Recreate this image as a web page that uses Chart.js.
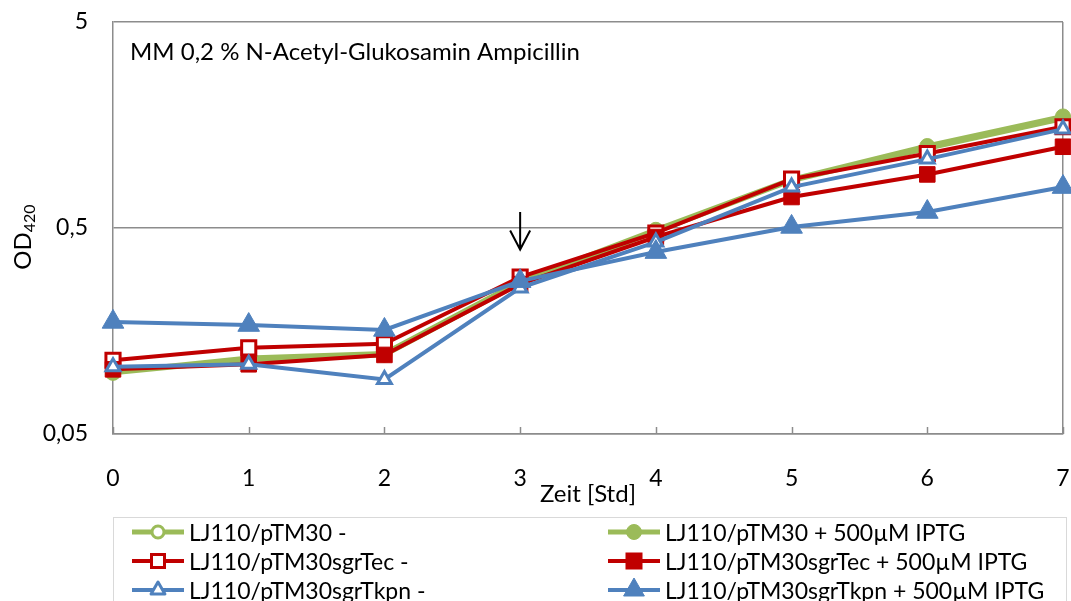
<!DOCTYPE html>
<html lang="de">
<head>
    <meta charset="UTF-8">
    <title>OD420 - MM 0,2 % N-Acetyl-Glukosamin Ampicillin</title>
    <script src="https://cdn.jsdelivr.net/npm/chart.js@4.4.1/dist/chart.umd.min.js"></script>
    <style>
        body {
            margin: 0;
            background: #ffffff;
            font-family: Lato, 'Open Sans', sans-serif;
        }
        .wrap {
            position: relative;
            width: 1071px;
            height: 601px;
            overflow: hidden;
        }
        .wrap canvas {
            position: absolute;
            left: 0;
            top: 0;
        }
        .legend {
            position: absolute;
            left: 113px;
            top: 517px;
            width: 954px;
            height: 110px;
            border: 1px solid #d9d9d9;
            box-sizing: border-box;
        }
        .legend-item {
            position: absolute;
            height: 28px;
            display: flex;
            align-items: center;
            font-size: 23px;
            color: #000;
            white-space: nowrap;
        }
        .legend-item svg {
            margin-right: 5px;
        }
    </style>
</head>
<body>
    <div class="wrap">
        <canvas id="chart" width="1071" height="601"></canvas>
        <div id="legend" class="legend"></div>
    </div>

    <script>
        // Data
        const hours = [0, 1, 2, 3, 4, 5, 6, 7];
        const pTM30 = [0.099, 0.115, 0.121, 0.270, 0.480, 0.850, 1.22, 1.70];
        const pTM30Iptg = [0.100, 0.117, 0.123, 0.275, 0.490, 0.860, 1.25, 1.74];
        const sgrTec = [0.114, 0.131, 0.137, 0.289, 0.473, 0.864, 1.15, 1.55];
        const sgrTecIptg = [0.103, 0.109, 0.121, 0.267, 0.452, 0.707, 0.91, 1.24];
        const sgrTkpn = [0.106, 0.109, 0.092, 0.256, 0.427, 0.790, 1.08, 1.51];
        const sgrTkpnIptg = [0.175, 0.169, 0.160, 0.276, 0.382, 0.506, 0.598, 0.790];

        const seriesNames = [
            'LJ110/pTM30 -',
            'LJ110/pTM30 + 500µM IPTG',
            'LJ110/pTM30sgrTec -',
            'LJ110/pTM30sgrTec + 500µM IPTG',
            'LJ110/pTM30sgrTkpn -',
            'LJ110/pTM30sgrTkpn + 500µM IPTG'
        ];
        const yTicks = [0.05, 0.5, 5];
        const arrowHour = 3;
        const arrowFrom = 0.598;
        const arrowTo = 0.393;

        const FONT = 'Lato, "Open Sans", sans-serif';
        const GREEN = '#9bbb59';
        const RED = '#c00000';
        const BLUE = '#4f81bd';
        const GRID = '#8c8c8c';

        // radius is the Chart.js point radius
        const styles = [
            { color: GREEN, shape: 'circle', filled: false, radius: 6.5, width: 5 },
            { color: GREEN, shape: 'circle', filled: true, radius: 7.5, width: 5 },
            { color: RED, shape: 'rect', filled: false, radius: 10, width: 4 },
            { color: RED, shape: 'rect', filled: true, radius: 11, width: 4 },
            { color: BLUE, shape: 'triangle', filled: false, radius: 8, width: 4 },
            { color: BLUE, shape: 'triangle', filled: true, radius: 12.5, width: 4 }
        ];
        const values = [pTM30, pTM30Iptg, sgrTec, sgrTecIptg, sgrTkpn, sgrTkpnIptg];

        const datasets = values.map((vals, i) => {
            const s = styles[i];
            return {
                label: seriesNames[i],
                data: hours.map((h, j) => ({ x: h, y: vals[j] })),
                borderColor: s.color,
                borderWidth: s.width,
                pointStyle: s.shape,
                pointRadius: s.radius,
                pointBorderWidth: s.filled ? 1 : 3,
                pointBorderColor: s.color,
                pointBackgroundColor: s.filled ? s.color : '#ffffff',
                tension: 0,
                clip: false,
                order: values.length - i   // later series on top, like the original
            };
        });

        // Title text, arrow, inner tick marks and the OD420 axis label
        const extrasPlugin = {
            id: 'extras',
            afterDraw(chart) {
                const ctx = chart.ctx;
                const xs = chart.scales.x;
                const ys = chart.scales.y;
                const area = chart.chartArea;
                ctx.save();

                // small inward tick marks on the x axis
                ctx.strokeStyle = GRID;
                ctx.lineWidth = 1.5;
                hours.forEach(h => {
                    const px = Math.round(xs.getPixelForValue(h)) + 0.5;
                    ctx.beginPath();
                    ctx.moveTo(px, area.bottom);
                    ctx.lineTo(px, area.bottom - 7);
                    ctx.stroke();
                });

                // plot title inside the area
                ctx.fillStyle = '#000';
                ctx.font = '24px ' + FONT;
                ctx.textBaseline = 'middle';
                ctx.textAlign = 'left';
                ctx.fillText('MM 0,2 % N-Acetyl-Glukosamin Ampicillin', area.left + 17, area.top + 30);

                // arrow marking the induction time
                const ax = xs.getPixelForValue(arrowHour);
                const y1 = ys.getPixelForValue(arrowFrom);
                const y2 = ys.getPixelForValue(arrowTo);
                ctx.strokeStyle = '#000';
                ctx.lineWidth = 2;
                ctx.beginPath();
                ctx.moveTo(ax, y1);
                ctx.lineTo(ax, y2);
                ctx.moveTo(ax - 10, y2 - 19);
                ctx.lineTo(ax, y2);
                ctx.lineTo(ax + 10, y2 - 19);
                ctx.stroke();

                // y axis title with subscript
                ctx.translate(22, 237);
                ctx.rotate(-Math.PI / 2);
                ctx.font = '24px ' + FONT;
                const odW = ctx.measureText('OD').width;
                ctx.font = '16px ' + FONT;
                const subW = ctx.measureText('420').width;
                const start = -(odW + subW) / 2;
                ctx.textAlign = 'left';
                ctx.textBaseline = 'alphabetic';
                ctx.font = '24px ' + FONT;
                ctx.fillText('OD', start, 9);
                ctx.font = '16px ' + FONT;
                ctx.fillText('420', start + odW, 13);

                ctx.restore();
            }
        };

        const chart = new Chart(document.getElementById('chart'), {
            type: 'line',
            data: { datasets },
            options: {
                responsive: false,
                animation: false,
                layout: {
                    autoPadding: false,
                    padding: { top: 22, right: 8, left: 0, bottom: 87 }
                },
                plugins: {
                    legend: { display: false },
                    tooltip: { enabled: false }
                },
                scales: {
                    x: {
                        type: 'linear',
                        min: 0,
                        max: 7,
                        ticks: {
                            stepSize: 1,
                            padding: 31,
                            color: '#000',
                            font: { size: 23, family: FONT }
                        },
                        grid: {
                            drawTicks: false,
                            lineWidth: 1.5,
                            color: ctx => (ctx.tick && ctx.tick.value === 7) ? GRID : 'rgba(0,0,0,0)'
                        },
                        border: { color: GRID, width: 1.5 },
                        title: {
                            display: true,
                            text: 'Zeit [Std]',
                            color: '#000',
                            font: { size: 24, family: FONT },
                            padding: { top: 0, bottom: 5 }
                        },
                        afterFit: s => {
                            s.height = 80;
                            s.paddingLeft = 0;
                            s.paddingRight = 0;
                        }
                    },
                    y: {
                        type: 'logarithmic',
                        min: 0.05,
                        max: 5,
                        afterBuildTicks: s => { s.ticks = yTicks.map(v => ({ value: v })); },
                        ticks: {
                            padding: 25,
                            color: '#000',
                            font: { size: 23, family: FONT },
                            callback: v => String(v).replace('.', ',')
                        },
                        grid: { drawTicks: false, color: GRID, lineWidth: 1.5 },
                        border: { color: GRID, width: 1.5 },
                        afterFit: s => {
                            s.width = 113;
                            s.paddingTop = 0;
                            s.paddingBottom = 0;
                        }
                    }
                }
            },
            plugins: [extrasPlugin]
        });

        // Legend: two columns, three rows, like the original
        function markerSvg(s) {
            const c = s.color;
            const fill = s.filled ? c : '#ffffff';
            const sw = s.filled ? 1 : 3;
            let mark;
            if (s.shape === 'circle') {
                mark = `<circle cx="26" cy="14" r="${s.filled ? 7.5 : 6}" fill="${fill}" stroke="${c}" stroke-width="${sw}"/>`;
            } else if (s.shape === 'rect') {
                const side = s.filled ? 16 : 13;
                mark = `<rect x="${26 - side / 2}" y="${14 - side / 2}" width="${side}" height="${side}" fill="${fill}" stroke="${c}" stroke-width="${sw}"/>`;
            } else {
                const r = s.filled ? 12 : 8;
                mark = `<polygon points="26,${14 - r} ${26 + r * 0.866},${14 + r / 2} ${26 - r * 0.866},${14 + r / 2}" fill="${fill}" stroke="${c}" stroke-width="${sw}" stroke-linejoin="round"/>`;
            }
            return `<svg width="52" height="28" viewBox="0 0 52 28">
                <line x1="0" y1="14" x2="52" y2="14" stroke="${c}" stroke-width="${s.width}"/>${mark}</svg>`;
        }

        const legend = document.getElementById('legend');
        const colLeft = [18, 494];
        const rowTop = [0, 29, 58];
        seriesNames.forEach((name, i) => {
            const item = document.createElement('div');
            item.className = 'legend-item';
            item.style.left = colLeft[i % 2] + 'px';
            item.style.top = rowTop[Math.floor(i / 2)] + 'px';
            item.innerHTML = markerSvg(styles[i]) + '<span>' + name + '</span>';
            legend.appendChild(item);
        });
    </script>
</body>
</html>
